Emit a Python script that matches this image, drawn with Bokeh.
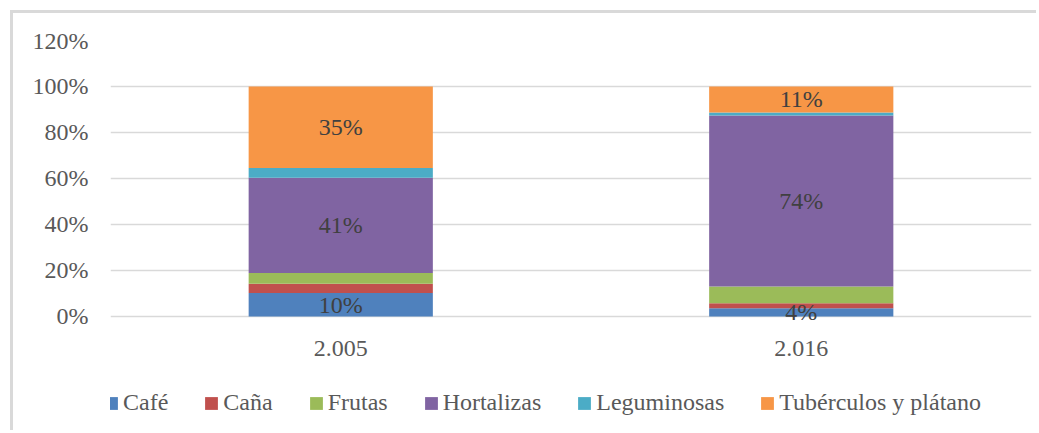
from bokeh.plotting import figure
from bokeh.models import ColumnDataSource, Legend, LegendItem, NumeralTickFormatter, FactorRange, LabelSet, FixedTicker
from bokeh.embed import file_html
from bokeh.resources import INLINE

years = ["2.005", "2.016"]
series = ["Café", "Caña", "Frutas", "Hortalizas", "Leguminosas", "Tubérculos y plátano"]
keys = ["cafe", "cana", "frutas", "hortalizas", "leguminosas", "tuberculos"]
cafe = [0.102, 0.036]
cana = [0.040, 0.022]
frutas = [0.047, 0.072]
hortalizas = [0.414, 0.744]
leguminosas = [0.043, 0.013]
tuberculos = [0.354, 0.113]
colors = ["#4F81BD", "#C0504D", "#9BBB59", "#8064A2", "#4BACC6", "#F79646"]
labeled = ["cafe", "hortalizas", "tuberculos"]
y_ticks = [0, 0.2, 0.4, 0.6, 0.8, 1.0, 1.2]

FONT = "Liberation Serif"

data = dict(x=years, cafe=cafe, cana=cana, frutas=frutas, hortalizas=hortalizas,
            leguminosas=leguminosas, tuberculos=tuberculos)
source = ColumnDataSource(data)

# frame extends below 0 to leave room for category labels and legend
Y_BOTTOM = -0.5087
p = figure(x_range=FactorRange(*years), y_range=(Y_BOTTOM, 1.2), width=1026, height=420,
           output_backend="svg", toolbar_location=None, x_axis_location=None,
           min_border_left=97, min_border_right=8, min_border_top=27, min_border_bottom=0,
           margin=(10, 0, 0, 10))
p.styles = {"border-left": "3px solid #d9d9d9", "border-top": "3px solid #d9d9d9"}
p.outline_line_color = None

renderers = p.vbar_stack(keys, x="x", width=0.4, color=colors, source=source, line_color=None)

# data labels
cum = [0.0, 0.0]
for k in keys:
    vals = data[k]
    centers = [cum[i] + vals[i] / 2 for i in range(2)]
    cum = [cum[i] + vals[i] for i in range(2)]
    if k in labeled:
        ls = ColumnDataSource(dict(x=years, y=centers, t=["%d%%" % round(v * 100) for v in vals]))
        p.add_layout(LabelSet(x="x", y="y", text="t", source=ls, text_align="center",
                              text_baseline="middle", text_font=FONT, text_font_size="24px",
                              text_color="#404040"))

# category labels
cs = ColumnDataSource(dict(x=years, y=[0, 0], t=years))
p.add_layout(LabelSet(x="x", y="y", text="t", source=cs, y_offset=-32, text_align="center",
                      text_baseline="middle", text_font=FONT, text_font_size="24px",
                      text_color="#595959"))

p.xgrid.grid_line_color = None
p.ygrid.grid_line_color = "#d9d9d9"
p.ygrid.grid_line_width = 1.5
p.yaxis.ticker = FixedTicker(ticks=y_ticks)
p.yaxis.formatter = NumeralTickFormatter(format="0%")
ax = p.yaxis
ax.axis_line_color = None
ax.major_tick_line_color = None
ax.minor_tick_line_color = None
ax.major_tick_out = 0
ax.major_tick_in = 0
ax.major_label_text_font = FONT
ax.major_label_text_font_size = "24px"
ax.major_label_text_color = "#595959"
ax.major_label_standoff = 22

items = [LegendItem(label=s, renderers=[r]) for s, r in zip(series, renderers)]
legend = Legend(items=items, orientation="horizontal", location=(-7, 17),
                label_text_font=FONT, label_text_font_size="24px", label_text_color="#595959",
                glyph_width=16, glyph_height=16, label_standoff=4, spacing=35,
                border_line_color=None, background_fill_alpha=0, padding=0, margin=0)
p.add_layout(legend, "center")

open("out.html", "w").write(file_html(p, INLINE))
